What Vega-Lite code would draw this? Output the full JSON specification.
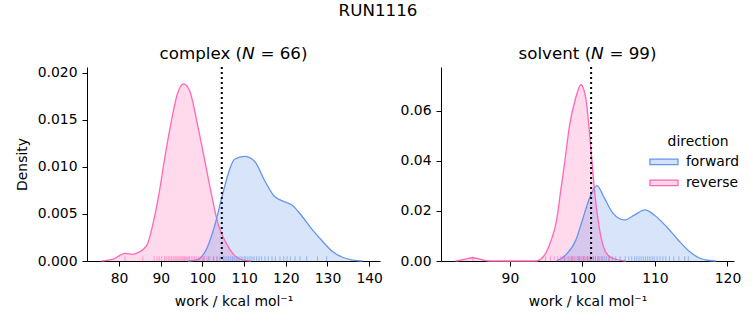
{
  "$schema": "https://vega.github.io/schema/vega-lite/v6.json",
  "padding": {"left": 15, "top": 3, "right": 5, "bottom": 5},
  "title": {"text": "RUN1116", "fontSize": 16.7, "fontWeight": "normal", "anchor": "middle", "offset": 26, "color": "black", "font": "DejaVu Sans"},
  "config": {
    "font": "DejaVu Sans",
    "view": {"stroke": null},
    "title": {"fontSize": 16.7, "fontWeight": "normal", "color": "black", "font": "DejaVu Sans", "offset": 3},
    "axis": {"grid": false, "domainColor": "black", "tickColor": "black", "labelColor": "black", "titleColor": "black", "labelFontSize": 13.9, "titleFontSize": 13.9, "titleFontWeight": "normal", "tickSize": 5, "labelPadding": 5, "labelFont": "DejaVu Sans", "titleFont": "DejaVu Sans", "domainWidth": 1, "tickWidth": 1}
  },
  "datasets": {
    "kde": [
      {"panel": "complex", "direction": "reverse", "work": 75.8, "density": 0},
      {"panel": "complex", "direction": "reverse", "work": 78.6, "density": 0.0002},
      {"panel": "complex", "direction": "reverse", "work": 80.2, "density": 0.0006},
      {"panel": "complex", "direction": "reverse", "work": 81.4, "density": 0.0008},
      {"panel": "complex", "direction": "reverse", "work": 83.3, "density": 0.0007},
      {"panel": "complex", "direction": "reverse", "work": 84.5, "density": 0.0009},
      {"panel": "complex", "direction": "reverse", "work": 85.7, "density": 0.0012},
      {"panel": "complex", "direction": "reverse", "work": 86.9, "density": 0.0019},
      {"panel": "complex", "direction": "reverse", "work": 88.0, "density": 0.0037},
      {"panel": "complex", "direction": "reverse", "work": 89.6, "density": 0.0072},
      {"panel": "complex", "direction": "reverse", "work": 90.9, "density": 0.0108},
      {"panel": "complex", "direction": "reverse", "work": 92.3, "density": 0.0143},
      {"panel": "complex", "direction": "reverse", "work": 94.1, "density": 0.0179},
      {"panel": "complex", "direction": "reverse", "work": 95.5, "density": 0.0188},
      {"panel": "complex", "direction": "reverse", "work": 96.9, "density": 0.0181},
      {"panel": "complex", "direction": "reverse", "work": 98.9, "density": 0.0143},
      {"panel": "complex", "direction": "reverse", "work": 100.5, "density": 0.0108},
      {"panel": "complex", "direction": "reverse", "work": 102.1, "density": 0.0072},
      {"panel": "complex", "direction": "reverse", "work": 103.7, "density": 0.0040},
      {"panel": "complex", "direction": "reverse", "work": 105.7, "density": 0.0019},
      {"panel": "complex", "direction": "reverse", "work": 107.7, "density": 0.0006},
      {"panel": "complex", "direction": "reverse", "work": 109.7, "density": 0.0001},
      {"panel": "complex", "direction": "reverse", "work": 111.7, "density": 0},
      {"panel": "complex", "direction": "forward", "work": 96.5, "density": 0},
      {"panel": "complex", "direction": "forward", "work": 98.5, "density": 0.0001},
      {"panel": "complex", "direction": "forward", "work": 100.9, "density": 0.0012},
      {"panel": "complex", "direction": "forward", "work": 102.9, "density": 0.0037},
      {"panel": "complex", "direction": "forward", "work": 104.9, "density": 0.0072},
      {"panel": "complex", "direction": "forward", "work": 106.5, "density": 0.0097},
      {"panel": "complex", "direction": "forward", "work": 107.7, "density": 0.0108},
      {"panel": "complex", "direction": "forward", "work": 110.1, "density": 0.0111},
      {"panel": "complex", "direction": "forward", "work": 112.5, "density": 0.0106},
      {"panel": "complex", "direction": "forward", "work": 114.85, "density": 0.0086},
      {"panel": "complex", "direction": "forward", "work": 117.2, "density": 0.0069},
      {"panel": "complex", "direction": "forward", "work": 119.6, "density": 0.0063},
      {"panel": "complex", "direction": "forward", "work": 121.6, "density": 0.0059},
      {"panel": "complex", "direction": "forward", "work": 124.0, "density": 0.0047},
      {"panel": "complex", "direction": "forward", "work": 126.4, "density": 0.0033},
      {"panel": "complex", "direction": "forward", "work": 128.8, "density": 0.0021},
      {"panel": "complex", "direction": "forward", "work": 131.2, "density": 0.0010},
      {"panel": "complex", "direction": "forward", "work": 133.6, "density": 0.0004},
      {"panel": "complex", "direction": "forward", "work": 136.0, "density": 0.0001},
      {"panel": "complex", "direction": "forward", "work": 138.4, "density": 0},
      {"panel": "solvent", "direction": "reverse", "work": 82.5, "density": 0},
      {"panel": "solvent", "direction": "reverse", "work": 83.7, "density": 0.0006},
      {"panel": "solvent", "direction": "reverse", "work": 84.85, "density": 0.0013},
      {"panel": "solvent", "direction": "reverse", "work": 86.0, "density": 0.0006},
      {"panel": "solvent", "direction": "reverse", "work": 87.2, "density": 0},
      {"panel": "solvent", "direction": "reverse", "work": 93.6, "density": 0},
      {"panel": "solvent", "direction": "reverse", "work": 94.6, "density": 0.0017},
      {"panel": "solvent", "direction": "reverse", "work": 95.7, "density": 0.0084},
      {"panel": "solvent", "direction": "reverse", "work": 96.45, "density": 0.0164},
      {"panel": "solvent", "direction": "reverse", "work": 96.96, "density": 0.0271},
      {"panel": "solvent", "direction": "reverse", "work": 97.6, "density": 0.0404},
      {"panel": "solvent", "direction": "reverse", "work": 98.2, "density": 0.0537},
      {"panel": "solvent", "direction": "reverse", "work": 99.0, "density": 0.0644},
      {"panel": "solvent", "direction": "reverse", "work": 99.8, "density": 0.0704},
      {"panel": "solvent", "direction": "reverse", "work": 100.5, "density": 0.0644},
      {"panel": "solvent", "direction": "reverse", "work": 100.9, "density": 0.0537},
      {"panel": "solvent", "direction": "reverse", "work": 101.3, "density": 0.0404},
      {"panel": "solvent", "direction": "reverse", "work": 101.7, "density": 0.0271},
      {"panel": "solvent", "direction": "reverse", "work": 102.3, "density": 0.0137},
      {"panel": "solvent", "direction": "reverse", "work": 102.9, "density": 0.0057},
      {"panel": "solvent", "direction": "reverse", "work": 103.5, "density": 0.0024},
      {"panel": "solvent", "direction": "reverse", "work": 104.6, "density": 0.0007},
      {"panel": "solvent", "direction": "reverse", "work": 106.0, "density": 0},
      {"panel": "solvent", "direction": "forward", "work": 96.4, "density": 0},
      {"panel": "solvent", "direction": "forward", "work": 97.7, "density": 0.0024},
      {"panel": "solvent", "direction": "forward", "work": 99.1, "density": 0.0084},
      {"panel": "solvent", "direction": "forward", "work": 100.0, "density": 0.0164},
      {"panel": "solvent", "direction": "forward", "work": 101.0, "density": 0.0253},
      {"panel": "solvent", "direction": "forward", "work": 102.0, "density": 0.0301},
      {"panel": "solvent", "direction": "forward", "work": 103.0, "density": 0.0253},
      {"panel": "solvent", "direction": "forward", "work": 104.2, "density": 0.0191},
      {"panel": "solvent", "direction": "forward", "work": 105.8, "density": 0.0164},
      {"panel": "solvent", "direction": "forward", "work": 107.2, "density": 0.0184},
      {"panel": "solvent", "direction": "forward", "work": 108.6, "density": 0.0204},
      {"panel": "solvent", "direction": "forward", "work": 109.9, "density": 0.0184},
      {"panel": "solvent", "direction": "forward", "work": 111.6, "density": 0.0137},
      {"panel": "solvent", "direction": "forward", "work": 113.2, "density": 0.0084},
      {"panel": "solvent", "direction": "forward", "work": 114.8, "density": 0.0037},
      {"panel": "solvent", "direction": "forward", "work": 116.2, "density": 0.0011},
      {"panel": "solvent", "direction": "forward", "work": 117.5, "density": 0.0002},
      {"panel": "solvent", "direction": "forward", "work": 118.4, "density": 0}
    ],
    "rug": [
      {"panel": "complex", "direction": "reverse", "work": 81.4},
      {"panel": "complex", "direction": "reverse", "work": 85.7},
      {"panel": "complex", "direction": "reverse", "work": 88.4},
      {"panel": "complex", "direction": "reverse", "work": 89.1},
      {"panel": "complex", "direction": "reverse", "work": 89.6},
      {"panel": "complex", "direction": "reverse", "work": 90.2},
      {"panel": "complex", "direction": "reverse", "work": 90.9},
      {"panel": "complex", "direction": "reverse", "work": 91.3},
      {"panel": "complex", "direction": "reverse", "work": 91.8},
      {"panel": "complex", "direction": "reverse", "work": 92.2},
      {"panel": "complex", "direction": "reverse", "work": 92.6},
      {"panel": "complex", "direction": "reverse", "work": 93.0},
      {"panel": "complex", "direction": "reverse", "work": 93.4},
      {"panel": "complex", "direction": "reverse", "work": 93.7},
      {"panel": "complex", "direction": "reverse", "work": 94.1},
      {"panel": "complex", "direction": "reverse", "work": 94.4},
      {"panel": "complex", "direction": "reverse", "work": 94.8},
      {"panel": "complex", "direction": "reverse", "work": 95.1},
      {"panel": "complex", "direction": "reverse", "work": 95.4},
      {"panel": "complex", "direction": "reverse", "work": 95.7},
      {"panel": "complex", "direction": "reverse", "work": 96.0},
      {"panel": "complex", "direction": "reverse", "work": 96.3},
      {"panel": "complex", "direction": "reverse", "work": 96.6},
      {"panel": "complex", "direction": "reverse", "work": 96.9},
      {"panel": "complex", "direction": "reverse", "work": 97.3},
      {"panel": "complex", "direction": "reverse", "work": 97.7},
      {"panel": "complex", "direction": "reverse", "work": 98.1},
      {"panel": "complex", "direction": "reverse", "work": 98.5},
      {"panel": "complex", "direction": "reverse", "work": 99.0},
      {"panel": "complex", "direction": "reverse", "work": 99.4},
      {"panel": "complex", "direction": "reverse", "work": 99.9},
      {"panel": "complex", "direction": "reverse", "work": 100.5},
      {"panel": "complex", "direction": "reverse", "work": 101.1},
      {"panel": "complex", "direction": "reverse", "work": 101.8},
      {"panel": "complex", "direction": "reverse", "work": 102.6},
      {"panel": "complex", "direction": "reverse", "work": 103.5},
      {"panel": "complex", "direction": "forward", "work": 100.2},
      {"panel": "complex", "direction": "forward", "work": 101.5},
      {"panel": "complex", "direction": "forward", "work": 102.7},
      {"panel": "complex", "direction": "forward", "work": 103.5},
      {"panel": "complex", "direction": "forward", "work": 104.2},
      {"panel": "complex", "direction": "forward", "work": 105.0},
      {"panel": "complex", "direction": "forward", "work": 105.4},
      {"panel": "complex", "direction": "forward", "work": 105.9},
      {"panel": "complex", "direction": "forward", "work": 106.3},
      {"panel": "complex", "direction": "forward", "work": 106.8},
      {"panel": "complex", "direction": "forward", "work": 107.2},
      {"panel": "complex", "direction": "forward", "work": 107.6},
      {"panel": "complex", "direction": "forward", "work": 108.1},
      {"panel": "complex", "direction": "forward", "work": 108.5},
      {"panel": "complex", "direction": "forward", "work": 109.0},
      {"panel": "complex", "direction": "forward", "work": 109.5},
      {"panel": "complex", "direction": "forward", "work": 110.0},
      {"panel": "complex", "direction": "forward", "work": 110.4},
      {"panel": "complex", "direction": "forward", "work": 110.9},
      {"panel": "complex", "direction": "forward", "work": 111.4},
      {"panel": "complex", "direction": "forward", "work": 111.9},
      {"panel": "complex", "direction": "forward", "work": 112.4},
      {"panel": "complex", "direction": "forward", "work": 113.0},
      {"panel": "complex", "direction": "forward", "work": 113.6},
      {"panel": "complex", "direction": "forward", "work": 114.2},
      {"panel": "complex", "direction": "forward", "work": 115.0},
      {"panel": "complex", "direction": "forward", "work": 115.8},
      {"panel": "complex", "direction": "forward", "work": 116.7},
      {"panel": "complex", "direction": "forward", "work": 117.5},
      {"panel": "complex", "direction": "forward", "work": 118.6},
      {"panel": "complex", "direction": "forward", "work": 119.5},
      {"panel": "complex", "direction": "forward", "work": 120.3},
      {"panel": "complex", "direction": "forward", "work": 121.1},
      {"panel": "complex", "direction": "forward", "work": 122.2},
      {"panel": "complex", "direction": "forward", "work": 123.4},
      {"panel": "complex", "direction": "forward", "work": 125.0},
      {"panel": "complex", "direction": "forward", "work": 127.6},
      {"panel": "complex", "direction": "forward", "work": 129.8},
      {"panel": "solvent", "direction": "reverse", "work": 84.9},
      {"panel": "solvent", "direction": "reverse", "work": 94.9},
      {"panel": "solvent", "direction": "reverse", "work": 95.6},
      {"panel": "solvent", "direction": "reverse", "work": 96.1},
      {"panel": "solvent", "direction": "reverse", "work": 96.6},
      {"panel": "solvent", "direction": "reverse", "work": 97.0},
      {"panel": "solvent", "direction": "reverse", "work": 97.3},
      {"panel": "solvent", "direction": "reverse", "work": 97.6},
      {"panel": "solvent", "direction": "reverse", "work": 97.9},
      {"panel": "solvent", "direction": "reverse", "work": 98.1},
      {"panel": "solvent", "direction": "reverse", "work": 98.3},
      {"panel": "solvent", "direction": "reverse", "work": 98.5},
      {"panel": "solvent", "direction": "reverse", "work": 98.7},
      {"panel": "solvent", "direction": "reverse", "work": 98.9},
      {"panel": "solvent", "direction": "reverse", "work": 99.1},
      {"panel": "solvent", "direction": "reverse", "work": 99.3},
      {"panel": "solvent", "direction": "reverse", "work": 99.5},
      {"panel": "solvent", "direction": "reverse", "work": 99.6},
      {"panel": "solvent", "direction": "reverse", "work": 99.8},
      {"panel": "solvent", "direction": "reverse", "work": 99.9},
      {"panel": "solvent", "direction": "reverse", "work": 100.1},
      {"panel": "solvent", "direction": "reverse", "work": 100.2},
      {"panel": "solvent", "direction": "reverse", "work": 100.4},
      {"panel": "solvent", "direction": "reverse", "work": 100.6},
      {"panel": "solvent", "direction": "reverse", "work": 100.8},
      {"panel": "solvent", "direction": "reverse", "work": 101.0},
      {"panel": "solvent", "direction": "reverse", "work": 101.2},
      {"panel": "solvent", "direction": "reverse", "work": 101.5},
      {"panel": "solvent", "direction": "reverse", "work": 101.8},
      {"panel": "solvent", "direction": "reverse", "work": 102.2},
      {"panel": "solvent", "direction": "reverse", "work": 102.7},
      {"panel": "solvent", "direction": "reverse", "work": 103.6},
      {"panel": "solvent", "direction": "forward", "work": 97.5},
      {"panel": "solvent", "direction": "forward", "work": 98.6},
      {"panel": "solvent", "direction": "forward", "work": 99.5},
      {"panel": "solvent", "direction": "forward", "work": 100.2},
      {"panel": "solvent", "direction": "forward", "work": 100.7},
      {"panel": "solvent", "direction": "forward", "work": 101.1},
      {"panel": "solvent", "direction": "forward", "work": 101.5},
      {"panel": "solvent", "direction": "forward", "work": 101.8},
      {"panel": "solvent", "direction": "forward", "work": 102.1},
      {"panel": "solvent", "direction": "forward", "work": 102.4},
      {"panel": "solvent", "direction": "forward", "work": 102.7},
      {"panel": "solvent", "direction": "forward", "work": 103.0},
      {"panel": "solvent", "direction": "forward", "work": 103.3},
      {"panel": "solvent", "direction": "forward", "work": 103.7},
      {"panel": "solvent", "direction": "forward", "work": 104.1},
      {"panel": "solvent", "direction": "forward", "work": 104.6},
      {"panel": "solvent", "direction": "forward", "work": 105.2},
      {"panel": "solvent", "direction": "forward", "work": 105.9},
      {"panel": "solvent", "direction": "forward", "work": 106.4},
      {"panel": "solvent", "direction": "forward", "work": 106.8},
      {"panel": "solvent", "direction": "forward", "work": 107.2},
      {"panel": "solvent", "direction": "forward", "work": 107.5},
      {"panel": "solvent", "direction": "forward", "work": 107.8},
      {"panel": "solvent", "direction": "forward", "work": 108.1},
      {"panel": "solvent", "direction": "forward", "work": 108.4},
      {"panel": "solvent", "direction": "forward", "work": 108.7},
      {"panel": "solvent", "direction": "forward", "work": 109.0},
      {"panel": "solvent", "direction": "forward", "work": 109.3},
      {"panel": "solvent", "direction": "forward", "work": 109.6},
      {"panel": "solvent", "direction": "forward", "work": 109.9},
      {"panel": "solvent", "direction": "forward", "work": 110.3},
      {"panel": "solvent", "direction": "forward", "work": 110.7},
      {"panel": "solvent", "direction": "forward", "work": 111.1},
      {"panel": "solvent", "direction": "forward", "work": 111.5},
      {"panel": "solvent", "direction": "forward", "work": 112.0},
      {"panel": "solvent", "direction": "forward", "work": 112.6},
      {"panel": "solvent", "direction": "forward", "work": 113.3},
      {"panel": "solvent", "direction": "forward", "work": 114.1},
      {"panel": "solvent", "direction": "forward", "work": 114.6}
    ],
    "ref": [
      {"panel": "complex", "work": 104.64},
      {"panel": "solvent", "work": 101.2}
    ]
  },
  "bounds": "flush",
  "spacing": 61,
  "resolve": {"scale": {"color": "shared"}},
  "hconcat": [
    {
      "width": 293, "height": 194,
      "title": {"text": "complex (𝘕 = 66)"},
      "layer": [
        {
          "data": {"name": "kde"},
          "transform": [{"filter": "datum.panel === 'complex'"}],
          "mark": {"type": "area", "interpolate": "monotone", "fillOpacity": 0.25},
          "encoding": {
            "x": {"field": "work", "type": "quantitative", "scale": {"domain": [72.3, 142.6], "nice": false, "zero": false}, "axis": {"values": [80, 90, 100, 110, 120, 130, 140], "title": "work / kcal mol⁻¹", "titlePadding": 10}},
            "y": {"field": "density", "type": "quantitative", "stack": null, "scale": {"domain": [0, 0.0206], "nice": false}, "axis": {"values": [0, 0.005, 0.01, 0.015, 0.02], "format": ".3f", "title": "Density", "titlePadding": 8}},
            "color": {"field": "direction", "type": "nominal", "scale": {"domain": ["forward", "reverse"], "range": ["#6495ED", "#FF69B4"]},
              "legend": {"orient": "none", "legendX": 570, "legendY": 68, "title": "direction", "titleFontSize": 13.9, "titleFontWeight": "normal", "titleColor": "black", "labelColor": "black", "labelFontSize": 13.9, "titleAnchor": "middle", "titlePadding": 6, "labelOffset": 15, "rowPadding": 6, "symbolSize": 121,
                "encode": {"symbols": {"update": {"shape": {"value": "M-2.55,-0.5H2.55V0.5H-2.55Z"}, "fill": {"scale": "color", "field": "value"}, "fillOpacity": {"value": 0.28}, "stroke": {"scale": "color", "field": "value"}, "strokeWidth": {"value": 1.3}, "opacity": {"value": 1}}}}}}
          }
        },
        {
          "data": {"name": "kde"},
          "transform": [{"filter": "datum.panel === 'complex'"}],
          "mark": {"type": "line", "interpolate": "monotone", "strokeWidth": 1.3},
          "encoding": {
            "x": {"field": "work", "type": "quantitative"},
            "y": {"field": "density", "type": "quantitative"},
            "color": {"field": "direction", "type": "nominal"}
          }
        },
        {
          "data": {"name": "rug"},
          "transform": [{"filter": "datum.panel === 'complex'"}],
          "mark": {"type": "rule", "strokeWidth": 1, "opacity": 0.6},
          "encoding": {
            "x": {"field": "work", "type": "quantitative"},
            "y": {"datum": 0},
            "y2": {"datum": 0.0005},
            "color": {"field": "direction", "type": "nominal"}
          }
        },
        {
          "data": {"name": "ref"},
          "transform": [{"filter": "datum.panel === 'complex'"}],
          "mark": {"type": "rule", "color": "black", "strokeWidth": 2, "strokeDash": [2, 3]},
          "encoding": {"x": {"field": "work", "type": "quantitative"}}
        }
      ]
    },
    {
      "width": 293, "height": 194,
      "title": {"text": "solvent (𝘕 = 99)"},
      "layer": [
        {
          "data": {"name": "kde"},
          "transform": [{"filter": "datum.panel === 'solvent'"}],
          "mark": {"type": "area", "interpolate": "monotone", "fillOpacity": 0.25},
          "encoding": {
            "x": {"field": "work", "type": "quantitative", "scale": {"domain": [80.5, 120.9], "nice": false, "zero": false}, "axis": {"values": [90, 100, 110, 120], "title": "work / kcal mol⁻¹", "titlePadding": 10}},
            "y": {"field": "density", "type": "quantitative", "stack": null, "scale": {"domain": [0, 0.0775], "nice": false}, "axis": {"values": [0, 0.02, 0.04, 0.06], "format": ".2f", "title": null}},
            "color": {"field": "direction", "type": "nominal"}
          }
        },
        {
          "data": {"name": "kde"},
          "transform": [{"filter": "datum.panel === 'solvent'"}],
          "mark": {"type": "line", "interpolate": "monotone", "strokeWidth": 1.3},
          "encoding": {
            "x": {"field": "work", "type": "quantitative"},
            "y": {"field": "density", "type": "quantitative"},
            "color": {"field": "direction", "type": "nominal"}
          }
        },
        {
          "data": {"name": "rug"},
          "transform": [{"filter": "datum.panel === 'solvent'"}],
          "mark": {"type": "rule", "strokeWidth": 1, "opacity": 0.6},
          "encoding": {
            "x": {"field": "work", "type": "quantitative"},
            "y": {"datum": 0},
            "y2": {"datum": 0.0019},
            "color": {"field": "direction", "type": "nominal"}
          }
        },
        {
          "data": {"name": "ref"},
          "transform": [{"filter": "datum.panel === 'solvent'"}],
          "mark": {"type": "rule", "color": "black", "strokeWidth": 2, "strokeDash": [2, 3]},
          "encoding": {"x": {"field": "work", "type": "quantitative"}}
        }
      ]
    }
  ]
}
